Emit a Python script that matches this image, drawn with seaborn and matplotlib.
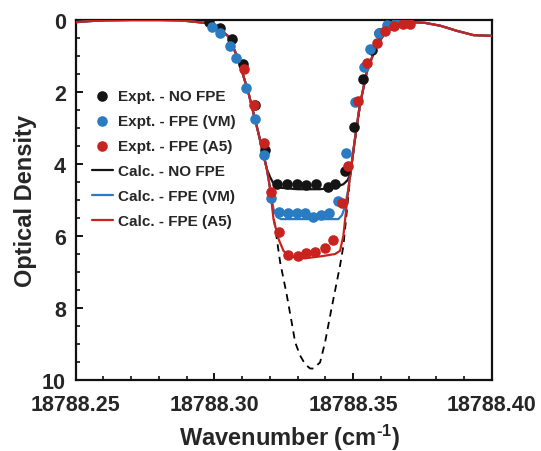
import numpy as np
import pandas as pd
import matplotlib
matplotlib.use("Agg")
import matplotlib.pyplot as plt
import seaborn as sns
from matplotlib.ticker import MultipleLocator, FormatStrFormatter, FixedLocator

# ---------------- data ----------------
# Experimental points
no_fpe_x = [18788.2982, 18788.3021, 18788.3063, 18788.3104, 18788.3146, 18788.3183,
            18788.3225, 18788.3261, 18788.3297, 18788.3329, 18788.3365, 18788.3409,
            18788.3433, 18788.3471, 18788.3503, 18788.3535, 18788.3567, 18788.3594,
            18788.3642, 18788.3676]
no_fpe_y = [0.06, 0.21, 0.54, 1.23, 2.35, 3.62, 4.56, 4.56, 4.56, 4.58, 4.56, 4.65,
            4.56, 4.19, 2.97, 1.65, 0.82, 0.36, 0.14, 0.00]

vm_x = [18788.2990, 18788.3020, 18788.3056, 18788.3077, 18788.3113, 18788.3147,
        18788.3177, 18788.3204, 18788.3234, 18788.3267, 18788.3297, 18788.3327,
        18788.3357, 18788.3385, 18788.3413, 18788.3447, 18788.3475, 18788.3507,
        18788.3541, 18788.3561, 18788.3595, 18788.3621, 18788.3651, 18788.3681]
vm_y = [0.20, 0.37, 0.71, 1.06, 1.89, 2.75, 3.74, 4.95, 5.32, 5.37, 5.37, 5.37,
        5.46, 5.41, 5.37, 5.02, 3.70, 2.29, 1.31, 0.81, 0.36, 0.14, 0.11, 0.06]

a5_x = [18788.3108, 18788.3142, 18788.3177, 18788.3204, 18788.3234, 18788.3267,
        18788.3301, 18788.3329, 18788.3363, 18788.3399, 18788.3427, 18788.3461,
        18788.3483, 18788.3517, 18788.3549, 18788.3585, 18788.3615, 18788.3649,
        18788.3681, 18788.3706]
a5_y = [1.36, 2.35, 3.42, 4.79, 5.90, 6.53, 6.56, 6.47, 6.45, 6.34, 6.10, 5.08,
        4.05, 2.24, 1.20, 0.65, 0.30, 0.16, 0.11, 0.11]

# Calculated curves
calc_no_x = [18788.2500, 18788.2550, 18788.2600, 18788.2700, 18788.2800, 18788.2880,
             18788.2930, 18788.2978, 18788.3014, 18788.3050, 18788.3086, 18788.3122,
             18788.3158, 18788.3189, 18788.3200, 18788.3210, 18788.3222, 18788.3240,
             18788.3300, 18788.3380, 18788.3433, 18788.3465, 18788.3480, 18788.3490,
             18788.3505, 18788.3524, 18788.3549, 18788.3579, 18788.3615, 18788.3651,
             18788.3693, 18788.3760, 18788.3815, 18788.3874, 18788.3934, 18788.4000]
calc_no_y = [0.06, 0.03, 0.01, 0.00, 0.00, 0.01, 0.05, 0.09, 0.23, 0.45, 1.08, 2.00,
             3.12, 4.14, 4.35, 4.50, 4.60, 4.66, 4.70, 4.70, 4.66, 4.56, 4.45, 4.28,
             3.40, 2.38, 1.45, 0.81, 0.34, 0.14, 0.05, 0.08, 0.16, 0.30, 0.42, 0.44]

calc_vm_x = [18788.2500, 18788.2550, 18788.2600, 18788.2700, 18788.2800, 18788.2880,
             18788.2930, 18788.2978, 18788.3014, 18788.3050, 18788.3086, 18788.3122,
             18788.3158, 18788.3189, 18788.3201, 18788.3213, 18788.3225, 18788.3240,
             18788.3447, 18788.3460, 18788.3470, 18788.3483, 18788.3505, 18788.3524,
             18788.3549, 18788.3579, 18788.3615, 18788.3651, 18788.3693, 18788.3760,
             18788.3815, 18788.3874, 18788.3934, 18788.4000]
calc_vm_y = [0.06, 0.03, 0.01, 0.00, 0.00, 0.01, 0.05, 0.09, 0.23, 0.45, 1.08, 2.00,
             3.12, 4.14, 4.69, 5.25, 5.47, 5.53, 5.53, 5.42, 5.20, 4.69, 3.40, 2.38,
             1.45, 0.81, 0.34, 0.14, 0.05, 0.08, 0.16, 0.30, 0.42, 0.44]

calc_a5_x = [18788.2500, 18788.2550, 18788.2600, 18788.2700, 18788.2800, 18788.2880,
             18788.2930, 18788.2978, 18788.3014, 18788.3050, 18788.3086, 18788.3122,
             18788.3158, 18788.3189, 18788.3201, 18788.3213, 18788.3231, 18788.3249,
             18788.3267, 18788.3326, 18788.3387, 18788.3435, 18788.3453, 18788.3465,
             18788.3483, 18788.3505, 18788.3524, 18788.3549, 18788.3579, 18788.3615,
             18788.3651, 18788.3693, 18788.3760, 18788.3815, 18788.3874, 18788.3934,
             18788.4000]
calc_a5_y = [0.06, 0.03, 0.01, 0.00, 0.00, 0.01, 0.05, 0.09, 0.23, 0.45, 1.08, 2.00,
             3.12, 4.14, 4.69, 5.53, 6.08, 6.41, 6.56, 6.62, 6.56, 6.50, 6.41, 5.99,
             4.69, 3.40, 2.38, 1.45, 0.81, 0.34, 0.14, 0.05, 0.08, 0.16, 0.30, 0.42,
             0.44]

# True (unsaturated) absorption, dashed
true_x = [18788.3158, 18788.3189, 18788.3205, 18788.3215, 18788.3225, 18788.3237,
          18788.3260, 18788.3281, 18788.3291, 18788.3309, 18788.3327, 18788.3345,
          18788.3357, 18788.3381, 18788.3399, 18788.3420, 18788.3438, 18788.3453,
          18788.3465, 18788.3477, 18788.3490, 18788.3507, 18788.3524]
true_y = [3.12, 4.14, 4.90, 5.55, 6.08, 6.73, 7.60, 8.50, 8.95, 9.32, 9.56, 9.68,
          9.68, 9.51, 8.95, 8.10, 7.40, 6.82, 6.27, 5.34, 4.32, 3.31, 2.45]

x_ticks = [18788.25, 18788.30, 18788.35, 18788.40]
y_ticks = [0, 2, 4, 6, 8, 10]

labels_expt = ["Expt. - NO FPE", "Expt. - FPE (VM)", "Expt. - FPE (A5)"]
labels_calc = ["Calc. - NO FPE", "Calc. - FPE (VM)", "Calc. - FPE (A5)"]

# ---------------- style ----------------
sns.set_style("ticks")
plt.rcParams["font.family"] = ["Liberation Sans", "DejaVu Sans"]
plt.rcParams["font.weight"] = "bold"
plt.rcParams["mathtext.fontset"] = "custom"
plt.rcParams["mathtext.rm"] = "Liberation Sans:bold"
plt.rcParams["mathtext.bf"] = "Liberation Sans:bold"
plt.rcParams["mathtext.default"] = "rm"

BLACK = "#141414"
BLUE = "#2a7bc2"
RED = "#c8231f"

fig = plt.figure(figsize=(5.41, 4.52), dpi=100)
ax = fig.add_axes([0.140, 0.157, 0.769, 0.7965])

# dashed true curve (under the solid lines)
sns.lineplot(x=true_x, y=true_y, ax=ax, color="black", lw=1.3, linestyle=(0, (4, 3)),
             estimator=None, sort=False, zorder=1)

sns.lineplot(x=calc_no_x, y=calc_no_y, ax=ax, color=BLACK, lw=1.6, estimator=None,
             sort=False, label=labels_calc[0], zorder=2)
sns.lineplot(x=calc_vm_x, y=calc_vm_y, ax=ax, color=BLUE, lw=1.6, estimator=None,
             sort=False, label=labels_calc[1], zorder=3)
sns.lineplot(x=calc_a5_x, y=calc_a5_y, ax=ax, color=RED, lw=1.6, estimator=None,
             sort=False, label=labels_calc[2], zorder=4)

ms = 58
sns.scatterplot(x=no_fpe_x, y=no_fpe_y, ax=ax, color=BLACK, s=ms, linewidth=0,
                label=labels_expt[0], zorder=5)
sns.scatterplot(x=vm_x, y=vm_y, ax=ax, color=BLUE, s=ms, linewidth=0,
                label=labels_expt[1], zorder=6)
sns.scatterplot(x=a5_x, y=a5_y, ax=ax, color=RED, s=ms, linewidth=0,
                label=labels_expt[2], zorder=7)

ax.set_xlim(18788.25, 18788.40)
ax.set_ylim(10, 0)
ax.xaxis.set_major_locator(FixedLocator(x_ticks))
ax.xaxis.set_major_formatter(FormatStrFormatter("%.2f"))
ax.xaxis.set_minor_locator(MultipleLocator(0.01))
ax.yaxis.set_major_locator(FixedLocator(y_ticks))
ax.yaxis.set_minor_locator(MultipleLocator(0.5))

for s in ax.spines.values():
    s.set_linewidth(1.6)
    s.set_color("#111111")
ax.tick_params(which="major", direction="in", length=5, width=1.4, labelsize=15.5,
               color="#111111")
ax.tick_params(which="minor", direction="in", length=3, width=1.2, color="#111111")
ax.tick_params(axis="x", which="major", pad=10)
ax.tick_params(axis="y", which="major", pad=7)
for lab in ax.get_xticklabels() + ax.get_yticklabels():
    lab.set_fontweight("bold")

ax.set_xlabel(r"Wavenumber (cm$^{\text{-1}}$)", fontsize=17, fontweight="bold")
ax.set_ylabel("Optical Density", fontsize=17, fontweight="bold", labelpad=3.5)
ax.xaxis.set_label_coords(0.515, -0.115)

handles, labels = ax.get_legend_handles_labels()
order = labels_expt + labels_calc
hmap = dict(zip(labels, handles))
leg = ax.legend([hmap[l] for l in order], order, loc="upper left",
                bbox_to_anchor=(0.038, 0.808), frameon=False,
                prop={"weight": "bold", "size": 11}, handlelength=1.4,
                handletextpad=0.35, labelspacing=0.72, borderpad=0, borderaxespad=0)

fig.savefig("out.png", dpi=100)
